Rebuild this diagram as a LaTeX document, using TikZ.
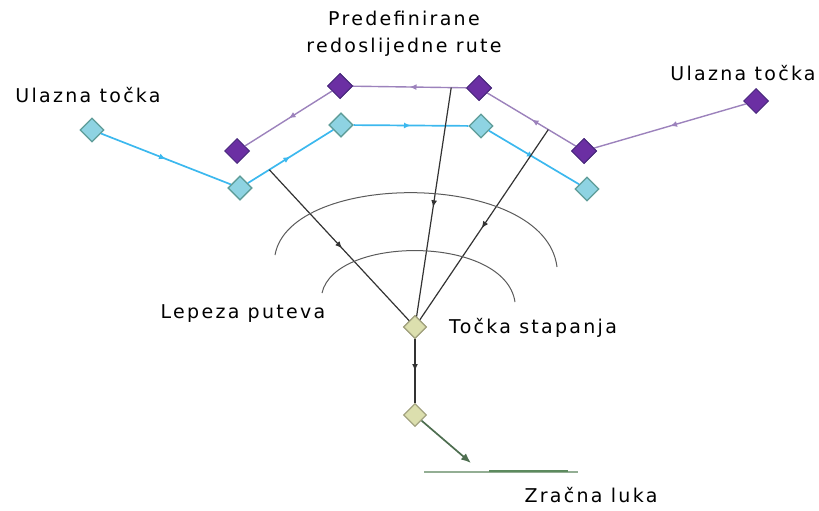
\documentclass[tikz,border=0pt]{standalone}
\usepackage{fontspec}
\setmainfont{DejaVu Sans}[LetterSpace=12]
\usetikzlibrary{shapes.geometric,arrows.meta,decorations.markings,calc}
\definecolor{blueln}{HTML}{3CB8EE}
\definecolor{bluefill}{HTML}{8ED3E2}
\definecolor{blueedge}{HTML}{5E9C98}
\definecolor{purpfill}{HTML}{6B2FA3}
\definecolor{purpedge}{HTML}{4B2A7E}
\definecolor{purpln}{HTML}{9C82BC}
\definecolor{mergefill}{HTML}{DCDFAE}
\definecolor{mergeedge}{HTML}{A3A380}
\definecolor{darkln}{HTML}{333333}
\definecolor{arcln}{HTML}{5A5A5A}
\definecolor{greenln}{HTML}{4E6E50}
\definecolor{rwthin}{HTML}{93AE94}
\definecolor{rwthick}{HTML}{5C8A5E}
\tikzset{
  bdia/.style={diamond,draw=blueedge,fill=bluefill,line width=1.2pt,inner sep=0pt,minimum width=24pt,minimum height=24pt},
  pdia/.style={diamond,draw=purpedge,fill=purpfill,line width=1pt,inner sep=0pt,minimum width=25pt,minimum height=25pt},
  mdia/.style={diamond,draw=mergeedge,fill=mergefill,line width=1.2pt,inner sep=0pt,minimum width=23pt,minimum height=23pt},
  midarrow/.style={postaction={decorate},decoration={markings,mark=at position #1 with {\arrow{Latex[length=7pt,width=6pt]}}}},
  bline/.style={draw=blueln,line width=1.7pt,midarrow=0.5},
  pline/.style={draw=purpln,line width=1.4pt,midarrow=0.5},
  kline/.style={draw=darkln,line width=1.2pt,midarrow=0.5},
  arcline/.style={draw=arcln,line width=1pt},
  lbl/.style={font=\fontsize{19}{27}\selectfont,text=black,inner sep=0pt,align=center}
}
\begin{document}
\begin{tikzpicture}[x=1pt,y=-1pt]
\useasboundingbox (0,0) rectangle (819,511);
% blue route
\node[bdia] (b1) at (92,130) {};
\node[bdia] (b2) at (240,188) {};
\node[bdia] (b3) at (341,125) {};
\node[bdia] (b4) at (481,126) {};
\node[bdia] (b5) at (587,189) {};
% purple route
\node[pdia] (p5) at (756,101) {};
\node[pdia] (p4) at (584,151) {};
\node[pdia] (p3) at (479,88) {};
\node[pdia] (p2) at (340,86) {};
\node[pdia] (p1) at (237,151) {};
% merge
\node[mdia] (m) at (415,327) {};
\node[mdia] (m2) at (415,415) {};
% connectors
\draw[bline] (b1) -- (b2);
\draw[bline] (b2) -- (b3);
\draw[bline] (b3) -- (b4);
\draw[bline] (b4) -- (b5);
\draw[pline] (p5) -- (p4);
\draw[pline] (p4) -- (p3);
\draw[pline] (p3) -- (p2);
\draw[pline] (p2) -- (p1);
% fan lines
\coordinate (s1) at ($(b2)!0.29!(b3)$);
\coordinate (s2) at ($(p2)!0.8!(p3)$);
\coordinate (s3) at ($(p3)!0.66!(p4)$);
\draw[kline] (s1) -- (m.center);
\draw[kline] (s2) -- (m.center);
\draw[kline] (s3) -- (m.center);
% arcs
\draw[arcline] (275,255) .. controls (290,170) and (545,170) .. (557,267);
\draw[arcline] (322,293) .. controls (335,235) and (505,235) .. (515,302);
% redraw diamonds on top
\node[bdia] at (b2) {};
\node[bdia] at (b3) {};
\node[pdia] at (p2) {};
\node[pdia] at (p3) {};
\node[pdia] at (p4) {};
\node[mdia] at (m) {};
% final
\draw[kline] (m) -- (m2);
\coordinate (ae) at (471,463);
\draw[draw=greenln,line width=1.7pt,-{Latex[length=10pt,width=8pt]}] (m2) -- (ae);
% runway
\coordinate (r1) at (424,472);
\coordinate (r2) at (578,472);
\coordinate (r3) at (489,471);
\coordinate (r4) at (568,471);
\draw[draw=rwthin,line width=1.4pt] (r1) -- (r2);
\draw[draw=rwthick,line width=2.6pt] (r3) -- (r4);
% labels
\node[lbl] (t1) at (88,95) {Ulazna točka};
\node[lbl] (t2) at (743,73) {Ulazna točka};
\node[lbl] (t3) at (404,34) {Predefinirane\\redoslijedne rute};
\node[lbl] (t4) at (243,314) {Lepeza puteva};
\node[lbl] (t5) at (533,328) {Točka stapanja};
\node[lbl] (t6) at (591,495) {Zračna luka};
\end{tikzpicture}
\end{document}
